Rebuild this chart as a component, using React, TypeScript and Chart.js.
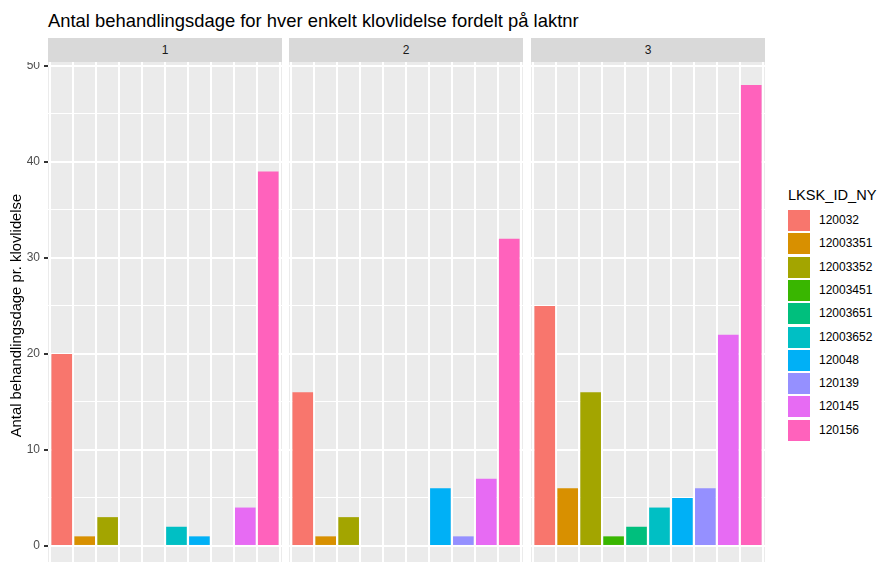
import React, { useEffect, useRef } from "react";
import { Chart, registerables } from "chart.js";

Chart.register(...registerables);

// ---- data ----
const categories = [
  "120032",
  "12003351",
  "12003352",
  "12003451",
  "12003651",
  "12003652",
  "120048",
  "120139",
  "120145",
  "120156",
];
const categoryColors = [
  "#F8766D",
  "#D89000",
  "#A3A500",
  "#39B600",
  "#00BF7D",
  "#00BFC4",
  "#00B0F6",
  "#9590FF",
  "#E76BF3",
  "#FF62BC",
];
const facetLabels = ["1", "2", "3"];
const laktnr1: (number | null)[] = [20, 1, 3, null, null, 2, 1, null, 4, 39];
const laktnr2: (number | null)[] = [16, 1, 3, null, null, null, 6, 1, 7, 32];
const laktnr3: (number | null)[] = [25, 6, 16, 1, 2, 4, 5, 6, 22, 48];
const facetValues = [laktnr1, laktnr2, laktnr3];
const yMajorTicks = [0, 10, 20, 30, 40, 50];
const yMinorTicks = [5, 15, 25, 35, 45];

const titleText = "Antal behandlingsdage for hver enkelt klovlidelse fordelt på laktnr";
const yTitleText = "Antal behandlingsdage pr. klovlidelse";
const legendTitle = "LKSK_ID_NY";

const FONT = '"Liberation Sans", Arial, Helvetica, sans-serif';

const panelBg = {
  id: "panelBg",
  beforeDraw(chart: any) {
    const { ctx, chartArea } = chart;
    ctx.save();
    ctx.fillStyle = "#EBEBEB";
    ctx.fillRect(
      chartArea.left,
      chartArea.top,
      chartArea.right - chartArea.left,
      chartArea.bottom - chartArea.top
    );
    ctx.restore();
  },
};

const PANEL_TOP = 62;
const PANEL_H = 507;
const PANEL_W = 234;
const Y_AXIS_W = 48;
const panelLefts = [48, 289, 531];

function Facet({ index }: { index: number }) {
  const ref = useRef<HTMLCanvasElement | null>(null);
  const showY = index === 0;
  useEffect(() => {
    if (!ref.current) return;
    const values = facetValues[index];
    const isMajor = (v: number) => v % 10 === 0;
    const chart = new Chart(ref.current, {
      type: "bar",
      data: {
        datasets: [
          {
            data: values.map((v, i) => ({ x: i + 1, y: v })) as any,
            backgroundColor: categoryColors,
            borderWidth: 0,
            barPercentage: 0.9,
            categoryPercentage: 1,
          },
        ],
      },
      options: {
        animation: false,
        responsive: false,
        maintainAspectRatio: false,
        layout: { padding: 0 },
        plugins: {
          legend: { display: false },
          tooltip: { enabled: false },
          title: { display: false },
        },
        scales: {
          x: {
            type: "linear",
            min: 0.4,
            max: 10.6,
            offset: false,
            afterBuildTicks: (s: any) => {
              s.ticks = categories.map((_, i) => ({ value: i + 1 }));
            },
            afterFit: (s: any) => {
              s.height = 0;
              s.paddingLeft = 0;
              s.paddingRight = 0;
              s.paddingTop = 0;
              s.paddingBottom = 0;
            },
            ticks: { display: false },
            grid: { color: "#FFFFFF", lineWidth: 2, drawTicks: false },
            border: { display: false },
          },
          y: {
            type: "linear",
            min: -2.4,
            max: 50.4,
            afterBuildTicks: (s: any) => {
              s.ticks = [...yMajorTicks, ...yMinorTicks]
                .sort((a, b) => a - b)
                .map((v) => ({ value: v }));
            },
            afterFit: (s: any) => {
              s.width = showY ? Y_AXIS_W : 0;
              s.paddingTop = 0;
              s.paddingBottom = 0;
              s.paddingLeft = 0;
              s.paddingRight = 0;
            },
            ticks: {
              display: showY,
              autoSkip: false,
              padding: 4,
              color: "#4D4D4D",
              font: { family: FONT, size: 12 },
              callback: (v: any) => (isMajor(Number(v)) ? String(v) : ""),
            },
            grid: {
              color: "#FFFFFF",
              lineWidth: (c: any) => (isMajor(c.tick.value) ? 2 : 1),
              drawTicks: showY,
              tickLength: 4,
              tickWidth: 2,
              tickColor: (c: any) =>
                isMajor(c.tick.value) ? "#333333" : "rgba(0,0,0,0)",
            },
            border: { display: false },
            title: {
              display: showY,
              text: yTitleText,
              color: "#000000",
              font: { family: FONT, size: 14.8 },
              padding: { top: 8, bottom: 0 },
            },
          },
        },
      },
      plugins: [panelBg],
    });
    return () => chart.destroy();
  }, [index]);

  const left = showY ? 0 : panelLefts[index];
  const width = showY ? panelLefts[0] + PANEL_W : PANEL_W;
  return (
    <canvas
      ref={ref}
      width={width}
      height={PANEL_H}
      style={{
        position: "absolute",
        left,
        top: PANEL_TOP,
        width,
        height: PANEL_H,
      }}
    />
  );
}

export default function App() {
  useEffect(() => {
    document.body.style.margin = "0";
  }, []);
  return (
    <div
      style={{
        position: "relative",
        width: 878,
        height: 562,
        overflow: "hidden",
        background: "#FFFFFF",
        fontFamily: FONT,
      }}
    >
      <div
        style={{
          position: "absolute",
          left: 48,
          top: 12,
          fontSize: 18.4,
          lineHeight: "18px",
          color: "#000000",
          whiteSpace: "nowrap",
        }}
      >
        {titleText}
      </div>
      {facetLabels.map((f, i) => (
        <div
          key={f}
          style={{
            position: "absolute",
            left: panelLefts[i],
            top: 38,
            width: PANEL_W,
            height: 24,
            lineHeight: "24px",
            background: "#D9D9D9",
            color: "#1A1A1A",
            fontSize: 12,
            textAlign: "center",
          }}
        >
          {f}
        </div>
      ))}
      {facetLabels.map((f, i) => (
        <Facet key={"c" + f} index={i} />
      ))}
      <div
        style={{
          position: "absolute",
          left: 788,
          top: 187,
          fontSize: 14.6,
          lineHeight: "16px",
          color: "#000000",
          whiteSpace: "nowrap",
        }}
      >
        {legendTitle}
      </div>
      {categories.map((c, i) => (
        <React.Fragment key={c}>
          <div
            style={{
              position: "absolute",
              left: 788,
              top: 210 + i * 23.3,
              width: 22,
              height: 21,
              background: categoryColors[i],
            }}
          />
          <div
            style={{
              position: "absolute",
              left: 819,
              top: 210 + i * 23.3,
              height: 21,
              lineHeight: "21px",
              fontSize: 12,
              color: "#000000",
              whiteSpace: "nowrap",
            }}
          >
            {c}
          </div>
        </React.Fragment>
      ))}
    </div>
  );
}
